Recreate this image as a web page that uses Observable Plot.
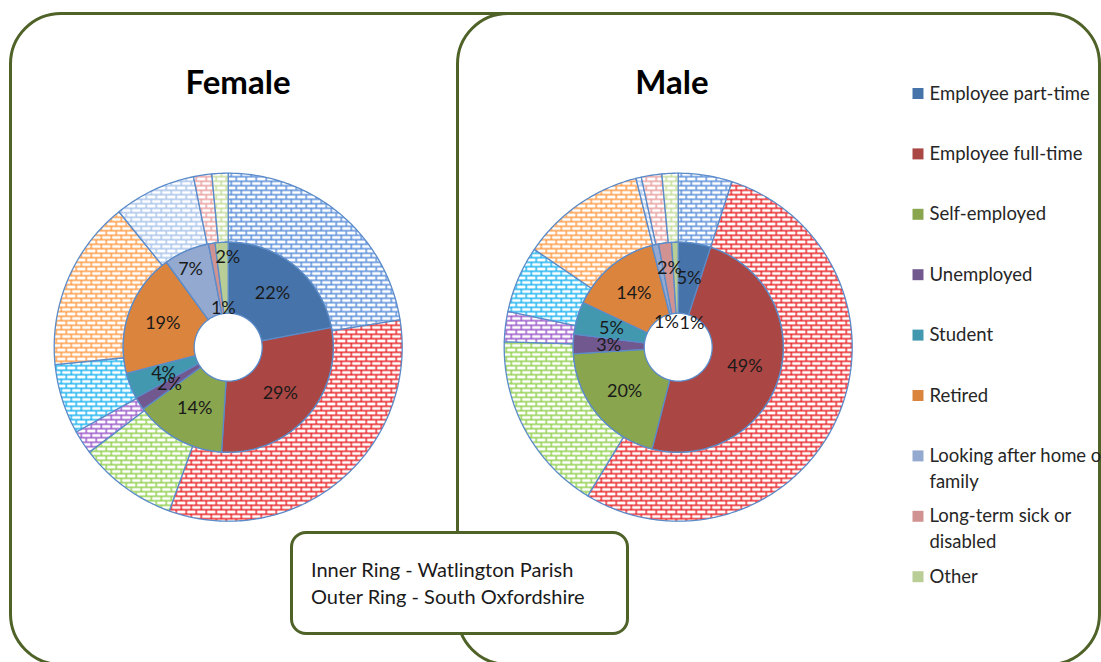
<!DOCTYPE html>
<html><head><meta charset="utf-8">
<script src="https://cdn.jsdelivr.net/npm/d3@7"></script>
<script src="https://cdn.jsdelivr.net/npm/@observablehq/plot@0.6"></script>
<style>
body{margin:0;background:#fff;}
#wrap{position:relative;width:1101px;height:662px;overflow:hidden;font-family:Lato,"Open Sans",sans-serif;background:#fff;}
.frame{position:absolute;box-sizing:border-box;border:3px solid #4F6228;border-radius:52px;background:#fff;}
.title{position:absolute;font-weight:bold;font-size:33px;color:#000;transform:translateX(-50%);line-height:1;}
#note{position:absolute;left:290px;top:531px;width:339px;height:104px;box-sizing:border-box;border:3px solid #4F6228;border-radius:16px;background:#fff;display:flex;flex-direction:column;justify-content:center;padding-left:18px;font-size:20px;line-height:27px;color:#1a1a1a;}
#chart{position:absolute;left:0;top:0;}
</style></head>
<body>
<div id="wrap">
  <div class="frame" style="left:9px;top:12px;width:560px;height:654px;"></div>
  <div class="frame" style="left:456px;top:12px;width:645px;height:654px;"></div>
  <div class="title" style="left:238px;top:65px;">Female</div>
  <div class="title" style="left:672px;top:65px;">Male</div>
  <div id="chart"></div>
  <div id="note"><div>Inner Ring - Watlington Parish</div><div>Outer Ring - South Oxfordshire</div></div>
</div>
<svg width="0" height="0" style="position:absolute"><defs id="defs"></defs></svg>
<script>
// ---- data ----
const categories = ["Employee part-time","Employee full-time","Self-employed","Unemployed","Student","Retired","Looking after home or family","Long-term sick or disabled","Other"];
const legendLabels = ["Employee part-time","Employee full-time","Self-employed","Unemployed","Student","Retired","Looking after home or\nfamily","Long-term sick or\ndisabled","Other"];
const femaleInner = [22, 29, 14, 2, 4, 19, 7, 1, 2];      // Watlington Parish
const femaleOuter = [22.5, 33, 9.2, 2.2, 6.5, 15.8, 7.6, 1.7, 1.5]; // South Oxfordshire
const maleInner = [5, 49, 20, 3, 5, 14, 1, 2, 1];
const maleOuter = [5, 53.7, 16.8, 2.8, 6.2, 11.6, 0.5, 1.9, 1.5];

// ---- styles ----
const innerColors = ["#4674AA","#AA4643","#89A54E","#71588F","#4198AF","#DB843D","#93A9CF","#D19392","#B9CD96"];
const outerColors = ["#5B8FD9","#E8262A","#92D050","#9B59C9","#1FB4F0","#FF9C48","#A9C4EB","#E8A0A0","#C4DC9A"];
// label nudges for the small slices (layout only)
const femaleNudge = [[0,0],[0,0],[0,0],[0,0],[0,0],[0,0],[-10,-14],[6,30],[4,-21]];
const maleNudge = [[0,0],[0,0],[0,0],[0,0],[0,0],[0,0],[3.5,43],[0,-10],[16,46]];

// patterns
const defs = document.getElementById("defs");
outerColors.forEach((c, i) => {
  defs.insertAdjacentHTML("beforeend",
    `<pattern id="p${i}" patternUnits="userSpaceOnUse" width="10" height="9">
      <rect width="10" height="9" fill="#fff"/>
      <path d="M0 0.7H10M0 5.2H10M0.7 0V4.5M5.7 4.5V9" stroke="${c}" stroke-width="1.5" fill="none"/>
    </pattern>`);
});

const R_HOLE = 34, R_MID = 105, R_OUT = 174;
const centers = {female: [227.7, 346.7], male: [677.7, 346.7]};

function ring(values, side, r0, r1, fills) {
  const [cx, cy] = centers[side];
  const arcs = d3.pie().sort(null).value(d => d).startAngle(0).endAngle(2 * Math.PI)(values);
  const pts = [];
  arcs.forEach((a, i) => {
    const id = side + r1 + "-" + i;
    const n = Math.max(2, Math.ceil((a.endAngle - a.startAngle) / 0.015));
    const fill = fills[i];
    for (let k = 0; k <= n; k++) {
      const t = a.startAngle + (a.endAngle - a.startAngle) * k / n;
      pts.push({id, fill, x: cx + r1 * Math.sin(t), y: cy - r1 * Math.cos(t)});
    }
    for (let k = n; k >= 0; k--) {
      const t = a.startAngle + (a.endAngle - a.startAngle) * k / n;
      pts.push({id, fill, x: cx + r0 * Math.sin(t), y: cy - r0 * Math.cos(t)});
    }
    pts.push({...pts[pts.length - 2 * (n + 1)]});
  });
  return pts;
}

function labels(values, side, nudge) {
  const [cx, cy] = centers[side];
  const rm = (R_HOLE + R_MID) / 2;
  return d3.pie().sort(null).value(d => d)(values).map((a, i) => {
    const t = (a.startAngle + a.endAngle) / 2;
    return {text: values[i] + "%", x: cx + rm * Math.sin(t) + nudge[i][0], y: cy - rm * Math.cos(t) + nudge[i][1]};
  });
}

const patFills = outerColors.map((c, i) => `url(#p${i})`);
const slices = [
  ...ring(femaleOuter, "female", R_MID, R_OUT, patFills),
  ...ring(maleOuter, "male", R_MID, R_OUT, patFills),
  ...ring(femaleInner, "female", R_HOLE, R_MID, innerColors),
  ...ring(maleInner, "male", R_HOLE, R_MID, innerColors)
];
const labelData = [...labels(femaleInner, "female", femaleNudge), ...labels(maleInner, "male", maleNudge)];

const legendY = (d, i) => 93 + i * 60.4;

const plot = Plot.plot({
  width: 1101, height: 662, margin: 0,
  x: {domain: [0, 1101], range: [0, 1101], axis: null},
  y: {domain: [0, 662], range: [0, 662], axis: null},
  color: {type: "identity"},
  style: {background: "transparent", fontFamily: "Lato, 'Open Sans', sans-serif", overflow: "hidden"},
  marks: [
    Plot.line(slices, {x: "x", y: "y", z: "id", fill: "fill", stroke: "#5B8BC9", strokeWidth: 1.3, curve: "linear"}),
    Plot.text(labelData, {x: "x", y: "y", text: "text", fontSize: 18, fill: "#1a1a1a"}),
    Plot.dot(categories, {x: () => 917.5, y: legendY, symbol: "square", r: 6.2, fill: (d, i) => innerColors[i], stroke: null}),
    Plot.text(legendLabels, {x: () => 929, y: (d, i) => legendY(d, i) - 12, text: d => d, textAnchor: "start", lineAnchor: "top", lineHeight: 1.38, fontSize: 18.5, fill: "#262626"})
  ]
});
document.getElementById("chart").appendChild(plot);
</script>
</body></html>
